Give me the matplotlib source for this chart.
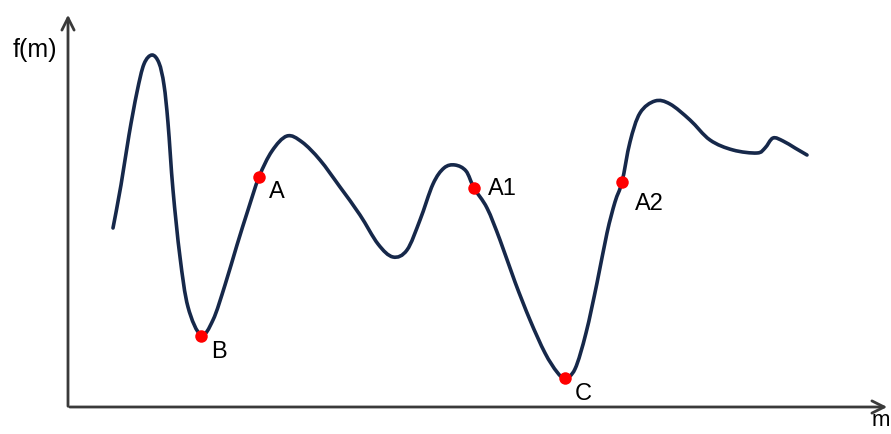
import matplotlib.pyplot as plt
from matplotlib.path import Path
from matplotlib.patches import PathPatch

plt.rcParams["font.family"] = ["Liberation Sans", "DejaVu Sans"]

# curve (pixel coords, y downwards)
curve_x = [113, 121, 129, 137, 144, 152, 159, 164, 168, 173, 180, 188, 201,
           213, 225, 237, 248, 259, 272, 287, 302, 320, 340, 360, 378, 393,
           407, 420, 433, 444, 455, 466, 474, 487, 500, 515, 530, 545, 557,
           565, 575, 586, 597, 607, 615, 622, 630, 640, 655, 670, 690, 710,
           733, 757, 765, 773, 783, 795, 807]
curve_y = [228, 185, 135, 92, 64, 55, 63, 85, 123, 190, 257, 307, 335,
           320, 285, 245, 210, 177, 151, 136, 142, 160, 187, 215, 244, 257,
           250, 220, 184, 168, 165, 171, 188, 208, 240, 282, 320, 353, 372,
           378, 369, 333, 283, 233, 202, 182, 142, 113, 101, 104, 120, 140,
           150, 153, 148, 138, 141, 148, 155]

point_labels = ["B", "A", "A1", "C", "A2"]
point_x = [201, 259, 474, 565, 622]
point_y = [336, 177, 188, 378, 182]
label_x = [219, 277, 502, 583, 649]
label_y = [352, 192, 189, 394, 204]


def smooth_path(xs, ys):
    # catmull-rom through the traced points, drawn as cubic bezier segments
    pts = list(zip(xs, ys))
    verts = [pts[0]]
    codes = [Path.MOVETO]
    n = len(pts)
    for i in range(n - 1):
        p0 = pts[max(i - 1, 0)]
        p1 = pts[i]
        p2 = pts[i + 1]
        p3 = pts[min(i + 2, n - 1)]
        c1 = (p1[0] + (p2[0] - p0[0]) / 6, p1[1] + (p2[1] - p0[1]) / 6)
        c2 = (p2[0] - (p3[0] - p1[0]) / 6, p2[1] - (p3[1] - p1[1]) / 6)
        verts += [c1, c2, p2]
        codes += [Path.CURVE4] * 3
    return Path(verts, codes)


fig = plt.figure(figsize=(8.91, 4.34), dpi=100)
ax = fig.add_axes([0, 0, 1, 1])
ax.set_xlim(0, 891)
ax.set_ylim(434, 0)
ax.axis("off")

axis_col = "#3a3a3a"
ax.annotate("", xy=(68, 12), xytext=(68, 409),
            arrowprops=dict(arrowstyle="->", lw=2, color=axis_col, mutation_scale=22))
ax.annotate("", xy=(890, 407), xytext=(67, 407),
            arrowprops=dict(arrowstyle="->", lw=2, color=axis_col, mutation_scale=22))

ax.add_patch(PathPatch(smooth_path(curve_x, curve_y), fill=False, ec="#16284a",
                       lw=2.6, joinstyle="round", capstyle="round"))
ax.plot(point_x, point_y, "o", color="#ff0000", ms=9, mec="none", zorder=3)

for lab, lx, ly in zip(point_labels, label_x, label_y):
    ax.text(lx, ly, lab, fontsize=17, ha="center", va="center", color="black")

ax.text(35, 50, "f(m)", fontsize=18, ha="center", va="center", color="black")
ax.text(890, 421, "m", fontsize=16, ha="right", va="center", color="black")

fig.savefig("out.png", dpi=100)
